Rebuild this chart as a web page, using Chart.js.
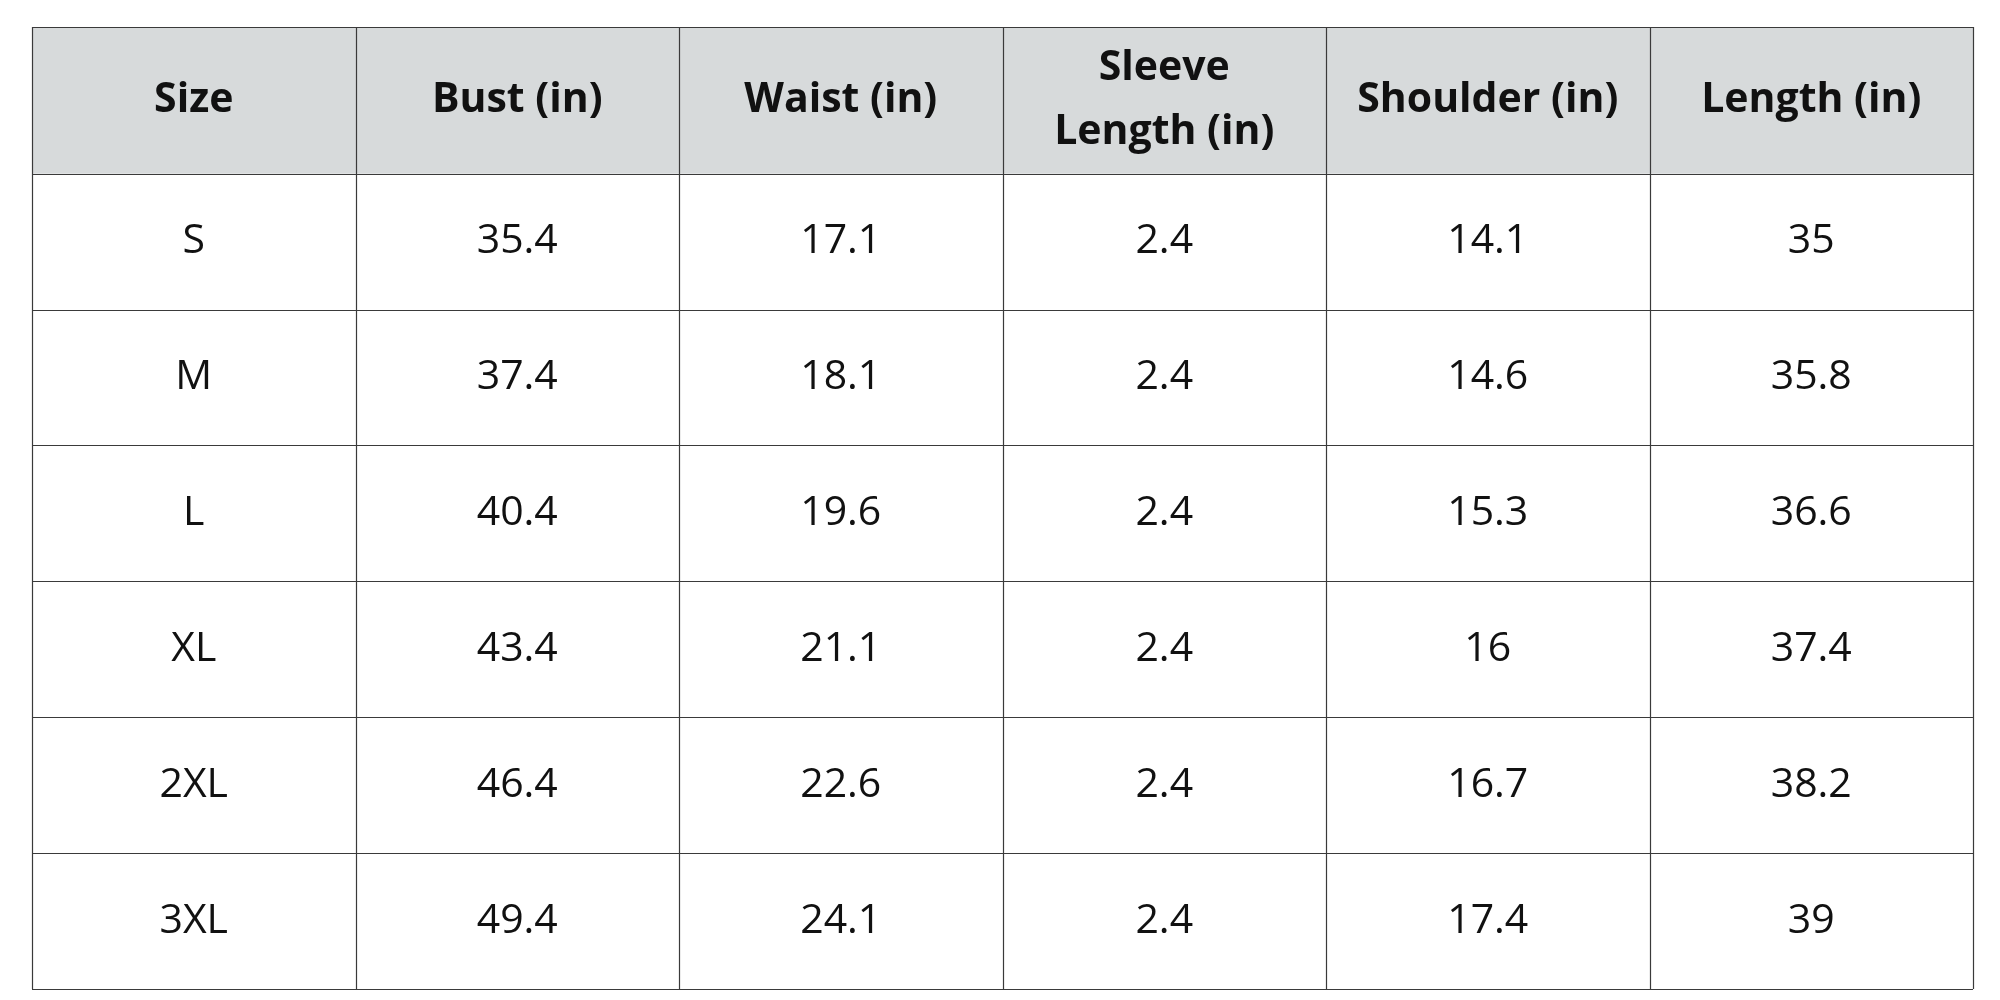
<!DOCTYPE html>
<html><head><meta charset="utf-8">
<script src="https://cdn.jsdelivr.net/npm/chart.js@4"></script>
<style>html,body{margin:0;padding:0;background:#fff}#wrap{width:2000px;height:1000px}</style>
</head><body><div id="wrap"><canvas id="c" width="2000" height="1000"></canvas></div>
<script>
const columns = ["Size","Bust (in)","Waist (in)","Sleeve\nLength (in)","Shoulder (in)","Length (in)"];
const sizes = ["S","M","L","XL","2XL","3XL"];
const bust = ["35.4","37.4","40.4","43.4","46.4","49.4"];
const waist = ["17.1","18.1","19.6","21.1","22.6","24.1"];
const sleeve = ["2.4","2.4","2.4","2.4","2.4","2.4"];
const shoulder = ["14.1","14.6","15.3","16","16.7","17.4"];
const lengthIn = ["35","35.8","36.6","37.4","38.2","39"];
const rowsData = [sizes,bust,waist,sleeve,shoulder,lengthIn];
const HEAD = 1.08;
const tablePlugin = {
  id:'table',
  afterDraw(chart){
    const ctx=chart.ctx, xs=chart.scales.x, ys=chart.scales.y;
    const X=v=>xs.getPixelForValue(v), Y=v=>ys.getPixelForValue(v);
    const nR=sizes.length, nC=columns.length, yMax=HEAD+nR;
    ctx.save();
    ctx.fillStyle='#d7dadb';
    ctx.fillRect(X(0),Y(0),X(nC)-X(0),Y(HEAD)-Y(0));
    ctx.strokeStyle='#3a3a3a'; ctx.lineWidth=1.2;
    ctx.beginPath();
    for(let c=0;c<=nC;c++){const x=Math.round(X(c))+0.5;ctx.moveTo(x,Y(0));ctx.lineTo(x,Y(yMax));}
    const ylines=[0];for(let r=0;r<=nR;r++)ylines.push(HEAD+r);
    ylines.forEach(v=>{const y=Math.round(Y(v))+0.5;ctx.moveTo(X(0),y);ctx.lineTo(X(nC),y);});
    ctx.stroke();
    ctx.fillStyle='#111'; ctx.textAlign='center'; ctx.textBaseline='middle';
    ctx.font='bold 41px "Open Sans", sans-serif';
    columns.forEach((t,c)=>{
      const lines=t.split('\n'), cx=X(c+0.5), cy=Y(HEAD/2), lh=64;
      lines.forEach((l,i)=>ctx.fillText(l,cx,cy+(i-(lines.length-1)/2)*lh));
    });
    ctx.font='41px "Open Sans", sans-serif';
    rowsData.forEach((col,c)=>col.forEach((t,r)=>ctx.fillText(t,X(c+0.5),Y(HEAD+r+0.5))));
    ctx.restore();
  }
};
new Chart(document.getElementById('c'),{
  type:'scatter',
  data:{datasets:[{data:[]}]},
  options:{responsive:false,animation:false,
    layout:{padding:{left:32,right:27,top:27,bottom:11}},
    plugins:{legend:{display:false},tooltip:{enabled:false}},
    scales:{x:{type:'linear',min:0,max:6,display:false},
            y:{type:'linear',min:0,max:HEAD+6,reverse:true,display:false}}},
  plugins:[tablePlugin]
});
</script></body></html>
